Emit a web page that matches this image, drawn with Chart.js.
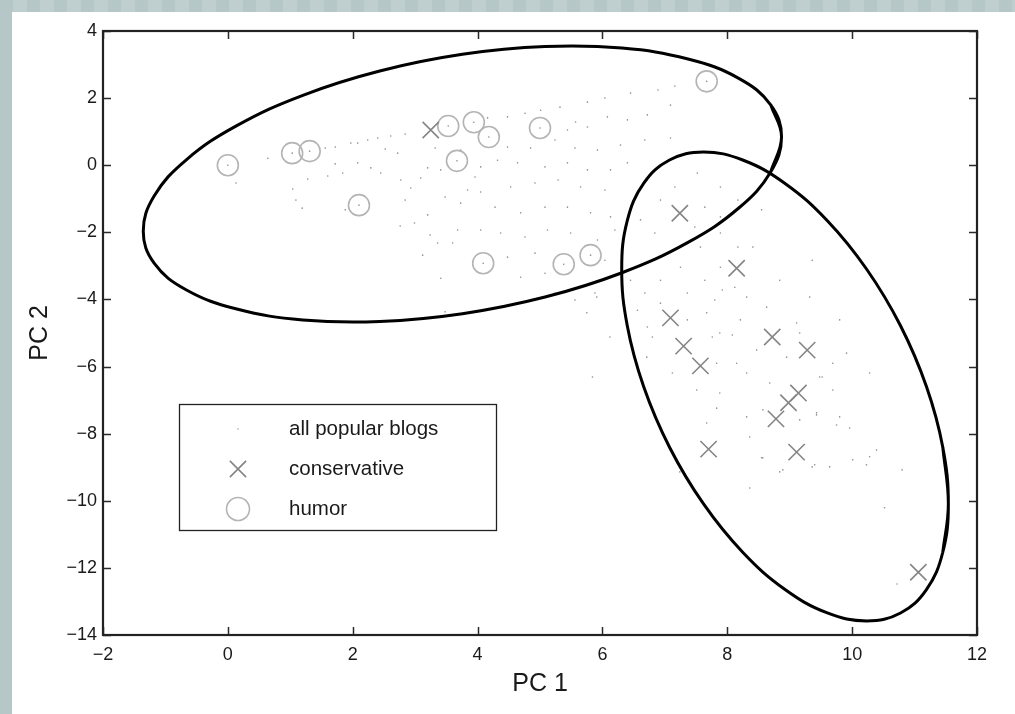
<!DOCTYPE html>
<html>
<head>
<meta charset="utf-8">
<script src="https://cdn.jsdelivr.net/npm/chart.js@4"></script>
<style>
  html, body { margin: 0; padding: 0; }
  body {
    width: 1015px; height: 714px; overflow: hidden; position: relative;
    background: repeating-linear-gradient(90deg, #b5c7c7 0px, #b5c7c7 13px, #bfcfcf 13px, #bfcfcf 27px);
  }
  #panel { position: absolute; left: 12px; top: 12px; width: 1003px; height: 702px; background: #ffffff; }
  canvas { display: block; }
</style>
</head>
<body>
<div id="panel"><canvas id="c" width="1003" height="702"></canvas></div>
<script>
// ---- data ----
const xTickValues = [-2, 0, 2, 4, 6, 8, 10, 12];
const yTickValues = [-14, -12, -10, -8, -6, -4, -2, 0, 2, 4];
const seriesLabels = ['all popular blogs', 'conservative', 'humor'];

const allBlogs = [
  [0.64,0.21],[0.13,-0.53],[1.04,-0.71],[1.09,-1.04],[1.19,-1.28],[1.56,0.51],[1.72,0.54],[1.97,0.66],[2.08,0.66],
  [2.24,0.75],[2.40,0.81],[2.61,0.87],[2.84,0.93],[1.72,0.04],[1.60,-0.32],[1.84,-0.23],[1.28,-0.41],[2.08,0.07],
  [2.29,-0.08],[2.45,-0.23],[1.88,-1.33],[2.52,0.48],[2.72,0.36],[2.77,-0.44],[2.93,-0.68],[2.84,-1.04],[2.76,-1.81],
  [2.99,-1.72],[3.09,-0.38],[3.20,-0.08],[3.32,0.51],[3.41,-0.14],[3.48,-0.95],[3.20,-1.48],[3.24,-2.08],[3.36,-2.32],
  [3.12,-2.68],[3.41,-3.37],[3.60,-2.32],[3.68,-1.93],[3.73,-1.13],[3.84,-0.74],[3.96,-0.35],[4.05,-0.05],[3.73,0.45],
  [4.05,-0.80],[4.05,-1.93],[3.48,-4.37],
  [4.16,1.41],[4.48,1.44],[4.76,1.55],[5.01,1.64],[5.32,1.73],[5.76,1.88],[6.04,2.00],[6.45,2.15],[6.89,2.24],[7.16,2.36],
  [5.57,1.29],[5.44,1.05],[5.76,1.14],[6.08,1.44],[6.40,1.35],[6.72,1.50],[7.09,1.79],[7.09,0.81],[6.68,0.75],[6.29,0.60],
  [5.92,0.45],[5.56,0.51],[5.24,0.75],[4.85,0.51],[4.48,0.54],[4.32,0.15],[4.64,0.07],[5.08,-0.05],[5.44,0.07],[5.76,-0.14],
  [6.13,-0.14],[6.40,0.07],[4.53,-0.65],[4.92,-0.53],[5.29,-0.44],[5.65,-0.65],[6.04,-0.74],[4.28,-1.25],[4.69,-1.42],
  [5.08,-1.25],[5.44,-1.25],[5.81,-1.42],[6.13,-1.54],[4.37,-2.02],[4.76,-2.14],[5.12,-1.93],[5.49,-2.02],[5.92,-2.23],
  [6.20,-1.93],[4.92,-2.62],[4.48,-2.74],[4.69,-3.34],[5.08,-3.22],[6.04,-2.83],[6.13,-3.34],[5.88,-3.81],[5.56,-4.02],
  [5.24,-3.81],
  [6.72,-0.44],[6.93,-1.04],[7.16,-0.65],[7.52,-0.23],[7.89,-0.65],[7.64,-1.25],[6.61,-1.63],[6.84,-2.02],[7.48,-1.84],
  [7.89,-1.54],[8.17,-1.04],
  [6.45,-3.43],[6.68,-3.81],[6.93,-3.43],[7.25,-3.04],[7.57,-2.44],[7.89,-2.02],[6.56,-4.32],[6.93,-4.11],[7.36,-3.81],
  [7.64,-3.43],[7.89,-3.04],[8.17,-2.44],[6.72,-4.82],[7.36,-4.61],[7.80,-4.02],[8.12,-3.64],[8.21,-4.61],
  [6.80,-5.12],[7.76,-5.12],[8.08,-5.06],[6.71,-5.72],[7.12,-6.19],[7.83,-5.90],[8.15,-5.90],[8.31,-6.19],[8.47,-5.51],
  [8.95,-5.72],[9.16,-5.00],[9.69,-5.90],[9.48,-6.31],[7.51,-6.70],[7.88,-6.79],[8.68,-6.49],[9.69,-6.70],[7.83,-7.24],
  [8.31,-7.50],[8.57,-7.29],[9.43,-7.38],[9.80,-7.50],[7.67,-7.68],[8.36,-8.10],[8.57,-8.72],[8.89,-9.08],[9.36,-8.99],
  [9.64,-8.99],[10.01,-8.78],[8.36,-9.62],[7.24,-9.14],
  [10.52,-10.21],[10.80,-9.08],[10.72,-12.48],[8.84,-9.14],[9.40,-8.93],[10.23,-8.93],[10.39,-8.49],[8.55,-8.72],
  [9.75,-7.74],[9.96,-7.83],[10.28,-8.69],[9.16,-7.59],[9.43,-7.44],
  [8.55,-1.33],[9.36,-2.83],[9.32,-3.93],[9.80,-4.61],[9.91,-5.60],[10.28,-6.19],[8.84,-3.43],[8.41,-2.44],[7.92,-3.72],
  [8.31,-3.93],[8.63,-4.23],[7.88,-5.00],[9.11,-4.70],[9.52,-6.31],[7.67,-4.40],
  [5.84,-6.31],[6.12,-5.12],[5.91,-3.93],[5.75,-4.40],
  [0,0],[1.03,0.36],[1.31,0.42],[2.1,-1.19],[3.53,1.17],[3.94,1.28],[4.18,0.84],[3.67,0.13],[5.0,1.11],[7.67,2.5],
  [4.09,-2.92],[5.38,-2.95],[5.81,-2.68]
];

const conservative = [
  [3.25,1.05],[7.24,-1.43],[8.15,-3.07],[7.09,-4.55],[7.30,-5.39],[7.57,-5.98],[8.72,-5.12],[9.28,-5.51],
  [9.14,-6.79],[8.98,-7.08],[8.78,-7.56],[7.70,-8.46],[9.11,-8.55],[11.06,-12.13]
];

const humor = [
  [0,0],[1.03,0.36],[1.31,0.42],[2.1,-1.19],[3.53,1.17],[3.94,1.28],[4.18,0.84],[3.67,0.13],[5.0,1.11],
  [7.67,2.5],[4.09,-2.92],[5.38,-2.95],[5.81,-2.68]
];

// outline points read along each ellipse (first points repeated at the end to close the loop)
const ellipseConservative = [
  [11.452,-11.534],[11.541,-10.088],[11.452,-8.404],[11.190,-6.594],[10.775,-4.784],[10.233,-3.100],[9.603,-1.654],
  [8.925,-0.543],[8.247,0.155],[7.617,0.393],[7.075,0.155],[6.660,-0.543],[6.398,-1.654],[6.309,-3.100],
  [6.398,-4.784],[6.660,-6.594],[7.075,-8.404],[7.617,-10.088],[8.247,-11.534],[8.925,-12.645],[9.603,-13.343],
  [10.233,-13.581],[10.775,-13.343],[11.190,-12.645],[11.452,-11.534],[11.541,-10.088],[11.452,-8.404]
];

const ellipseHumor = [
  [8.695,-0.202],[8.869,0.846],[8.695,1.800],[8.184,2.590],[7.371,3.166],[6.313,3.490],[5.081,3.536],[3.757,3.305],
  [2.433,2.808],[1.201,2.084],[0.143,1.179],[-0.670,0.155],[-1.181,-0.918],[-1.355,-1.966],[-1.181,-2.920],
  [-0.670,-3.710],[0.143,-4.286],[1.201,-4.610],[2.433,-4.656],[3.757,-4.425],[5.081,-3.928],[6.313,-3.204],
  [7.371,-2.299],[8.184,-1.275],[8.695,-0.202],[8.869,0.846],[8.695,1.800]
];

const toXY = arr => arr.map(p => ({ x: p[0], y: p[1] }));
const FONT = "'Liberation Sans', Arial, Helvetica, sans-serif";
const minus = v => String(v).replace('-', '\u2212');

// ---- plugin: MATLAB-style box, inner ticks and boxed legend ----
const matlabAxes = {
  id: 'matlabAxes',
  afterDraw(chart) {
    const { ctx, chartArea: a, scales } = chart;
    const xs = scales.x, ys = scales.y;
    ctx.save();
    ctx.strokeStyle = '#2a2a2a';
    ctx.lineWidth = 1.5;
    const tl = 8;
    ctx.beginPath();
    xTickValues.forEach(v => {
      const px = Math.round(xs.getPixelForValue(v)) + 0.5;
      ctx.moveTo(px, a.bottom); ctx.lineTo(px, a.bottom - tl);
      ctx.moveTo(px, a.top); ctx.lineTo(px, a.top + tl);
    });
    yTickValues.forEach(v => {
      const py = Math.round(ys.getPixelForValue(v)) + 0.5;
      ctx.moveTo(a.left, py); ctx.lineTo(a.left + tl, py);
      ctx.moveTo(a.right, py); ctx.lineTo(a.right - tl, py);
    });
    ctx.stroke();
    ctx.lineWidth = 2.2;
    ctx.strokeStyle = '#222';
    ctx.strokeRect(a.left, a.top, a.right - a.left, a.bottom - a.top);

    // legend box
    const bx = a.left + 76, by = a.top + 373, bw = 317, bh = 126;
    ctx.fillStyle = '#ffffff';
    ctx.fillRect(bx, by, bw, bh);
    ctx.lineWidth = 1.3;
    ctx.strokeStyle = '#222';
    ctx.strokeRect(bx + 0.5, by + 0.5, bw, bh);
    const mx = bx + 59, tx = bx + 110;
    const rows = [by + 25, by + 65, by + 105];
    ctx.font = '20.5px ' + FONT;
    ctx.fillStyle = '#1a1a1a';
    ctx.textBaseline = 'middle';
    ctx.textAlign = 'left';
    const dsets = chart.data.datasets.filter(d => d.isSeries)
      .sort((p, q) => seriesLabels.indexOf(p.label) - seriesLabels.indexOf(q.label));
    dsets.forEach((d, i) => {
      const y = rows[i];
      ctx.save();
      ctx.strokeStyle = d.pointBorderColor;
      ctx.fillStyle = d.pointBackgroundColor;
      ctx.lineWidth = d.pointBorderWidth;
      ctx.beginPath();
      if (d.pointStyle === 'crossRot') {
        const h = d.pointRadius * Math.SQRT1_2;
        ctx.moveTo(mx - h, y - h); ctx.lineTo(mx + h, y + h);
        ctx.moveTo(mx - h, y + h); ctx.lineTo(mx + h, y - h);
        ctx.stroke();
      } else if (d.pointRadius > 3) {
        ctx.arc(mx, y, d.pointRadius + 1, 0, Math.PI * 2);
        ctx.stroke();
      } else {
        ctx.arc(mx, y, 1, 0, Math.PI * 2);
        ctx.fillStyle = '#c8c8c8';
        ctx.fill();
      }
      ctx.restore();
      ctx.fillText(d.label, tx, y);
    });
    ctx.restore();
  }
};

new Chart(document.getElementById('c'), {
  type: 'scatter',
  data: {
    datasets: [
      {
        label: 'ellipse humor', data: toXY(ellipseHumor), showLine: true, tension: 0.4,
        borderColor: '#000', borderWidth: 3, pointRadius: 0, fill: false, order: 0
      },
      {
        label: 'ellipse conservative', data: toXY(ellipseConservative), showLine: true, tension: 0.4,
        borderColor: '#000', borderWidth: 3, pointRadius: 0, fill: false, order: 0
      },
      {
        label: seriesLabels[1], isSeries: true, data: toXY(conservative), pointStyle: 'crossRot',
        pointRadius: 11.5, pointBorderColor: '#858585', pointBackgroundColor: 'rgba(0,0,0,0)',
        pointBorderWidth: 1.6, order: 1
      },
      {
        label: seriesLabels[2], isSeries: true, data: toXY(humor), pointStyle: 'circle',
        pointRadius: 10.5, pointBorderColor: '#b4b4b4', pointBackgroundColor: 'rgba(0,0,0,0)',
        pointBorderWidth: 1.6, order: 2
      },
      {
        label: seriesLabels[0], isSeries: true, data: toXY(allBlogs), pointStyle: 'circle',
        pointRadius: 0.8, pointBorderWidth: 0, pointBorderColor: '#8c8c8c',
        pointBackgroundColor: '#8c8c8c', order: 3
      }
    ]
  },
  options: {
    responsive: false,
    animation: false,
    devicePixelRatio: 1,
    layout: { padding: { left: 0, top: 19, right: 38, bottom: 0 } },
    plugins: { legend: { display: false }, tooltip: { enabled: false } },
    scales: {
      x: {
        type: 'linear', min: -2, max: 12,
        afterBuildTicks: s => { s.ticks = xTickValues.map(v => ({ value: v })); },
        afterFit: s => { s.height = 79; },
        grid: { display: true, drawOnChartArea: false, drawTicks: false },
        border: { display: false },
        ticks: { color: '#1a1a1a', padding: 9, font: { family: FONT, size: 18 }, callback: minus, maxRotation: 0 },
        title: { display: true, text: 'PC 1', color: '#1a1a1a', font: { family: FONT, size: 25 }, padding: { top: 0, bottom: 15 } }
      },
      y: {
        type: 'linear', min: -14, max: 4,
        afterBuildTicks: s => { s.ticks = yTickValues.map(v => ({ value: v })); },
        afterFit: s => { s.width = 91; },
        grid: { display: true, drawOnChartArea: false, drawTicks: false },
        border: { display: false },
        ticks: { color: '#1a1a1a', padding: 6, font: { family: FONT, size: 18 }, callback: minus },
        title: { display: true, text: 'PC 2', color: '#1a1a1a', font: { family: FONT, size: 25 }, padding: { top: 13, bottom: 0 } }
      }
    }
  },
  plugins: [matlabAxes]
});
</script>
</body>
</html>
